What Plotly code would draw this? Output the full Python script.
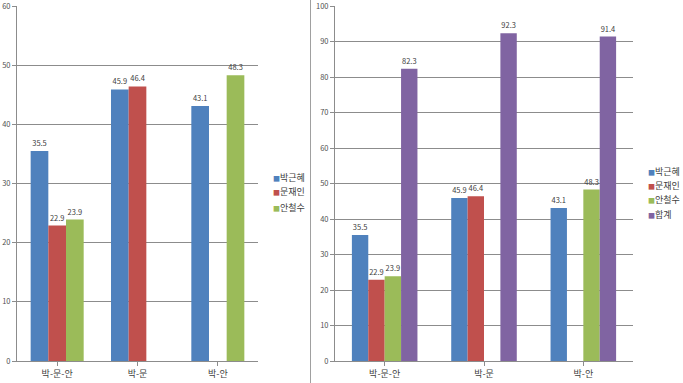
import plotly.graph_objects as go

categories = ["박-문-안", "박-문", "박-안"]
series_names = ["박근혜", "문재인", "안철수", "합계"]
park = [35.5, 45.9, 43.1]
moon = [22.9, 46.4, None]
ahn = [23.9, None, 48.3]
total = [82.3, 92.3, 91.4]
left_ticks = [0, 10, 20, 30, 40, 50, 60]
right_ticks = [0, 10, 20, 30, 40, 50, 60, 70, 80, 90, 100]

colors = ["#4F81BD", "#C0504D", "#9BBB59", "#8064A2"]
FONT = "Noto Sans CJK KR"
W, H = 683, 383

def fx(p):
    return p / W

def fy(p):
    return 1 - p / H

fig = go.Figure()

def lab(vals):
    return [("%.1f" % v) if v is not None else "" for v in vals]

for name, vals, c in zip(series_names[:3], [park, moon, ahn], colors[:3]):
    fig.add_trace(go.Bar(x=categories, y=vals, name=name, marker_color=c,
                         marker_line_width=0, text=lab(vals), textposition="outside",
                         constraintext="none",
                         textfont=dict(size=7.5, color="#404040", family=FONT),
                         cliponaxis=False, xaxis="x", yaxis="y", showlegend=False,
                         offsetgroup="L" + name))

for name, vals, c in zip(series_names, [park, moon, ahn, total], colors):
    fig.add_trace(go.Bar(x=categories, y=vals, name=name, marker_color=c,
                         marker_line_width=0, text=lab(vals), textposition="outside",
                         constraintext="none",
                         textfont=dict(size=7.5, color="#404040", family=FONT),
                         cliponaxis=False, xaxis="x2", yaxis="y2", showlegend=False,
                         offsetgroup="R" + name))

ydom = [fy(361), fy(6)]
axis_common = dict(showgrid=False, showline=True, linecolor="#8c8c8c", ticks="outside",
                   ticklen=4, tickcolor="#8c8c8c", automargin=False,
                   tickfont=dict(size=9, color="#404040", family=FONT))
yaxis_common = dict(showgrid=True, gridcolor="#8c8c8c", gridwidth=1, showline=True,
                    linecolor="#8c8c8c", ticks="outside", ticklen=4, tickcolor="#8c8c8c",
                    zeroline=False, automargin=False, ticklabeloverflow="allow",
                    tickfont=dict(size=7.5, color="#505050", family=FONT))

# legends drawn as text annotations built from the series names / colours
annotations = []
left_rows = [177, 192, 207]
for name, c, yy in zip(series_names[:3], colors[:3], left_rows):
    annotations.append(dict(
        x=fx(271), y=fy(yy), xref="paper", yref="paper", xanchor="left", yanchor="middle",
        showarrow=False,
        text="<span style='color:%s;font-size:7px'>■</span><span style='font-size:9px'>%s</span>" % (c, name),
        font=dict(family=FONT, size=9, color="#404040")))
right_rows = [171, 185, 199, 214]
for name, c, yy in zip(series_names, colors, right_rows):
    annotations.append(dict(
        x=fx(646), y=fy(yy), xref="paper", yref="paper", xanchor="left", yanchor="middle",
        showarrow=False,
        text="<span style='color:%s;font-size:7px'>■</span><span style='font-size:9px'>%s</span>" % (c, name),
        font=dict(family=FONT, size=9, color="#404040")))

fig.update_layout(
    width=W, height=H, margin=dict(l=0, r=0, t=0, b=0, autoexpand=False),
    paper_bgcolor="white", plot_bgcolor="white",
    barmode="group", bargap=0.34, bargroupgap=0,
    font=dict(family=FONT, size=9, color="#404040"),
    xaxis=dict(domain=[fx(17), fx(258)], anchor="y", **axis_common),
    yaxis=dict(domain=ydom, anchor="x", range=[0, 60], tickvals=left_ticks, **yaxis_common),
    xaxis2=dict(domain=[fx(335), fx(633)], anchor="y2", **axis_common),
    yaxis2=dict(domain=ydom, anchor="x2", range=[0, 100], tickvals=right_ticks, **yaxis_common),
    showlegend=False,
    annotations=annotations,
    shapes=[dict(type="line", xref="paper", yref="paper", x0=fx(310.5), x1=fx(310.5),
                 y0=0, y1=1, line=dict(color="#a0a0a0", width=1))],
)

fig.write_html("out.html", config={"displayModeBar": False},
               post_script="document.body.style.margin='0';document.body.style.overflow='hidden';")
